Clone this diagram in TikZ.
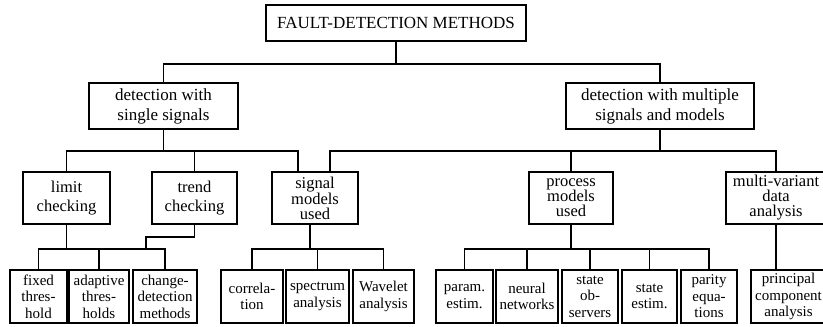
\documentclass[tikz,border=0pt]{standalone}
\usepackage{fontspec}
\setmainfont{Liberation Serif}
\begin{document}
\begin{tikzpicture}[x=1pt,y=-1pt,
  box/.style={draw,line width=1.3pt,inner sep=0pt,align=center,anchor=center},
  mainbox/.style={box,line width=2.6pt,font=\fontsize{17}{20}\selectfont},
  midbox/.style={box,minimum height=52pt,font=\fontsize{16.5}{19}\selectfont},
  midboxiii/.style={midbox,font=\fontsize{16.5}{15}\selectfont},
  leafbox/.style={box,minimum height=53pt,font=\fontsize{15}{16.5}\selectfont},
  conn/.style={line width=1.3pt}]
\useasboundingbox (0,0) rectangle (823,327);
\clip (0,0) rectangle (823,327);

% top level
\node[mainbox,minimum width=260pt,minimum height=36pt] (root) at (396,23) {FAULT-DETECTION METHODS};

% second level
\node[mainbox,minimum width=149pt,minimum height=46pt] (single) at (163.5,106) {detection with\\single signals};
\node[mainbox,minimum width=188pt,minimum height=46pt] (multi) at (660,106) {detection with multiple\\signals and models};

% third level
\node[midbox,minimum width=87pt] (limit) at (66.5,198) {limit\\checking};
\node[midbox,minimum width=85pt] (trend) at (194.5,198) {trend\\checking};
\node[midboxiii,minimum width=86pt] (signal) at (315,198) {signal\\models\\used};
\node[midboxiii,minimum width=84pt] (procm) at (571,198) {process\\models\\used};
\node[midboxiii,minimum width=100pt] (multivar) at (776,198) {multi-variant\\data\\analysis};

% leaves
\node[leafbox,minimum width=57pt] (fixed) at (38.5,296.5) {fixed\\thres-\\hold};
\node[leafbox,minimum width=60pt] (adapt) at (99,296.5) {adaptive\\thres-\\holds};
\node[leafbox,minimum width=64pt] (change) at (165,296.5) {change-\\detection\\methods};
\node[leafbox,minimum width=62pt] (corr) at (252,296.5) {correla-\\tion};
\node[leafbox,minimum width=63pt] (spec) at (317.5,296.5) {spectrum\\analysis};
\node[leafbox,minimum width=61pt] (wave) at (383.5,296.5) {Wavelet\\analysis};
\node[leafbox,minimum width=57pt] (param) at (464.5,296.5) {param.\\estim.};
\node[leafbox,minimum width=62pt] (neural) at (527,296.5) {neural\\networks};
\node[leafbox,minimum width=56pt] (sobs) at (590,296.5) {state\\ob-\\servers};
\node[leafbox,minimum width=55pt] (sest) at (649.5,296.5) {state\\estim.};
\node[leafbox,minimum width=56pt] (parity) at (709,296.5) {parity\\equa-\\tions};
\node[leafbox,minimum width=75pt] (princ) at (788.5,296.5) {principal\\component\\analysis};

% bus levels and attachment points
\coordinate (busA) at (0,64);
\coordinate (busB) at (0,151);
\coordinate (busC) at (0,249);
\coordinate (sigL) at ([xshift=-17pt]signal.north);
\coordinate (sigR) at ([xshift=15pt]signal.north);
\coordinate (sigB) at ([xshift=-5pt]signal.south);
\coordinate (trendJog) at (146,237);

% root to second level
\draw[conn] (root.south) -- (root.south |- busA);
\draw[conn] (single.north) |- (multi.north |- busA) -- (multi.north);

% second to third level
\draw[conn] (single.south) -- (single.south |- busB);
\draw[conn] (limit.north) |- (sigL |- busB) -- (sigL);
\draw[conn] (trend.north) -- (trend.north |- busB);
\draw[conn] (multi.south) -- (multi.south |- busB);
\draw[conn] (sigR) |- (multivar.north |- busB) -- (multivar.north);
\draw[conn] (procm.north) -- (procm.north |- busB);

% third level to leaves
\draw[conn] (limit.south) -- (limit.south |- busC);
\draw[conn] (trend.south) |- (trendJog) -- (trendJog |- busC);
\draw[conn] (fixed.north) |- (change.north |- busC) -- (change.north);
\draw[conn] (adapt.north) -- (adapt.north |- busC);

\draw[conn] (sigB) -- (sigB |- busC);
\draw[conn] (corr.north) |- (wave.north |- busC) -- (wave.north);
\draw[conn] (spec.north) -- (spec.north |- busC);

\draw[conn] (procm.south) -- (procm.south |- busC);
\draw[conn] (param.north) |- (parity.north |- busC) -- (parity.north);
\draw[conn] (neural.north) -- (neural.north |- busC);
\draw[conn] (sobs.north) -- (sobs.north |- busC);
\draw[conn] (sest.north) -- (sest.north |- busC);

\draw[conn] (multivar.south) -- (multivar.south |- princ.north);
\end{tikzpicture}
\end{document}
